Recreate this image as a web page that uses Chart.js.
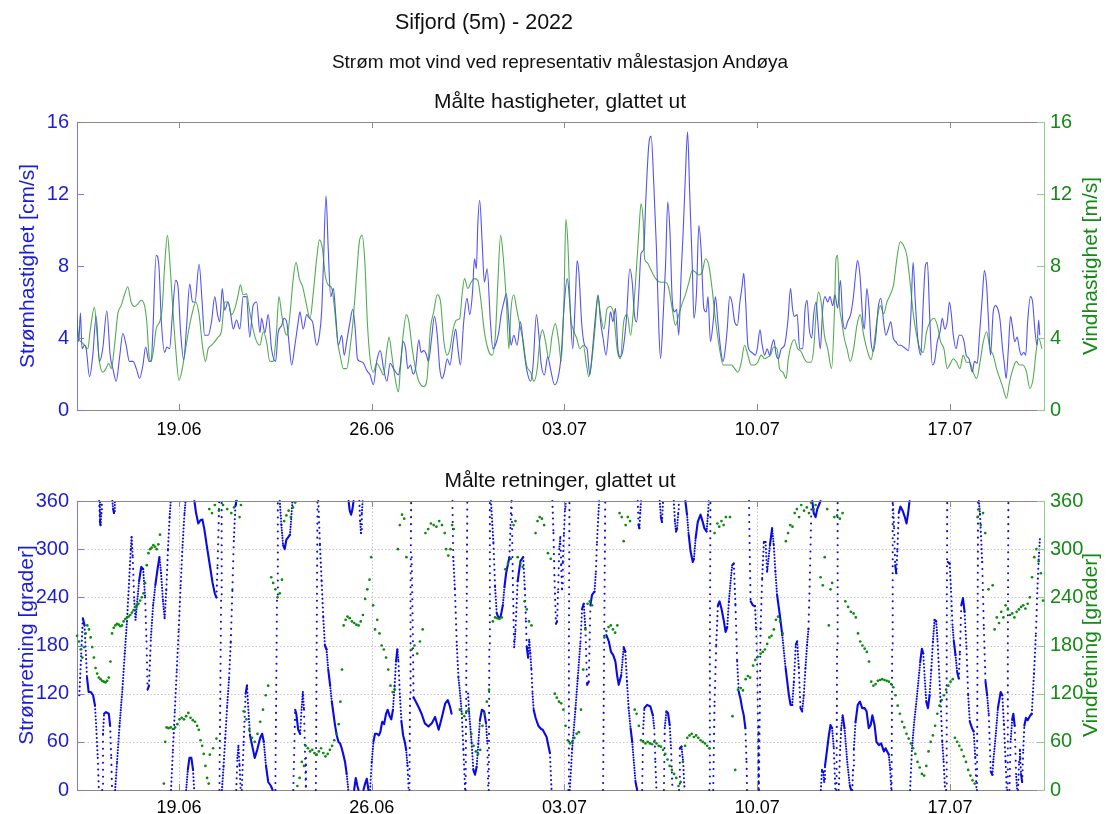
<!DOCTYPE html>
<html><head><meta charset="utf-8">
<script src="https://cdn.jsdelivr.net/npm/chart.js@4.4.1/dist/chart.umd.min.js"></script>
<style>
body{margin:0;background:#fff;width:1113px;height:814px;overflow:hidden;position:relative;font-family:"Liberation Sans",Arial,Helvetica,sans-serif;}
canvas{position:absolute;left:0;}
.t{position:absolute;white-space:nowrap;transform:translate(-50%,-50%);color:#111;z-index:2;}
.yl{position:absolute;white-space:nowrap;transform:translate(-50%,-50%) rotate(-90deg);z-index:2;font-size:21px;}
</style></head><body>
<canvas id="c1" width="1113" height="450" style="top:0"></canvas>
<canvas id="c2" width="1113" height="364" style="top:450px"></canvas>
<div class="t" style="left:484px;top:22px;font-size:21.5px">Sifjord (5m) - 2022</div>
<div class="t" style="left:560px;top:62px;font-size:19px">Strøm mot vind ved representativ målestasjon Andøya</div>
<div class="t" style="left:560px;top:101px;font-size:21px">Målte hastigheter, glattet ut</div>
<div class="t" style="left:560px;top:480px;font-size:21px">Målte retninger, glattet ut</div>
<div class="yl" style="left:27px;top:266px;color:#1c1cd8">Strømhastighet [cm/s]</div>
<div class="yl" style="left:1090px;top:266px;color:#168a16">Vindhastighet [m/s]</div>
<div class="yl" style="left:26px;top:645px;color:#1c1cd8">Strømretning [grader]</div>
<div class="yl" style="left:1090px;top:645px;color:#168a16">Vindretning [grader]</div>
<script>
// ---- axis definitions (days since 15.06.2022 00:00) ----
const xMinDay = 0.296;
const xMaxDay = 35.414;
const xTickDays = [4, 11, 18, 25, 32];
const xTickLabels = ['19.06', '26.06', '03.07', '10.07', '17.07'];
const speedTicks = [0, 4, 8, 12, 16];
const dirTicks = [0, 60, 120, 180, 240, 300, 360];

// ---- current speed [cm/s]: [day, value] ----
const curSpeed = [[0.27,5.45],[0.36,3.8],[0.42,5.4],[0.48,3.4],[0.57,3.6],[0.63,3.4],[0.75,1.85],[0.87,3.05],[0.99,5.2],[1.11,2.7],[1.23,3.4],[1.38,5.5],[1.50,3.05],[1.60,2.3],[1.72,1.6],[1.84,2.9],[1.96,4.25],[2.08,3.6],[2.20,2.7],[2.33,2.7],[2.45,2.3],[2.57,1.75],[2.69,2.5],[2.79,3.5],[2.91,2.7],[2.99,2.7],[3.05,4.3],[3.17,8.6],[3.27,8.0],[3.36,4.9],[3.48,3.2],[3.56,3.5],[3.66,3.4],[3.76,5.3],[3.88,7.2],[3.96,6.9],[4.06,4.3],[4.17,2.8],[4.27,4.5],[4.39,7.0],[4.49,6.0],[4.58,6.0],[4.73,8.1],[4.84,6.0],[4.93,4.15],[5.06,4.15],[5.18,4.9],[5.30,6.3],[5.40,5.3],[5.48,4.9],[5.57,6.75],[5.66,5.55],[5.78,6.0],[5.88,5.3],[5.97,4.5],[6.09,5.0],[6.21,4.5],[6.33,6.3],[6.45,6.3],[6.57,4.05],[6.69,5.8],[6.82,6.0],[6.94,4.3],[7.00,5.1],[7.12,4.3],[7.24,5.3],[7.36,3.4],[7.51,2.7],[7.60,4.3],[7.73,4.7],[7.81,5.1],[7.91,4.9],[7.99,3.8],[8.09,2.5],[8.21,3.6],[8.33,4.9],[8.39,5.45],[8.51,4.5],[8.64,5.3],[8.73,5.1],[8.85,4.9],[9.00,3.6],[9.10,4.15],[9.18,5.45],[9.24,7.85],[9.34,11.9],[9.42,8.95],[9.51,6.3],[9.61,6.75],[9.69,5.3],[9.79,3.6],[9.91,4.15],[10.00,3.05],[10.09,3.8],[10.21,4.9],[10.31,5.6],[10.40,4.5],[10.48,2.85],[10.58,2.7],[10.70,2.6],[10.82,2.2],[10.94,1.95],[11.06,1.4],[11.18,2.7],[11.31,3.3],[11.43,2.3],[11.55,1.6],[11.67,2.6],[11.79,2.3],[11.97,1.95],
[12.04,2.5],[12.14,3.8],[12.23,3.4],[12.31,2.3],[12.41,2.5],[12.50,2.0],[12.59,2.3],[12.71,3.9],[12.79,3.2],[12.89,3.3],[12.98,3.1],[13.06,2.7],[13.16,3.8],[13.28,5.2],[13.38,4.15],[13.47,2.3],[13.56,1.75],[13.64,2.1],[13.74,2.85],[13.84,2.5],[13.96,3.8],[14.05,4.5],[14.13,3.4],[14.22,2.5],[14.34,4.9],[14.46,6.2],[14.56,5.3],[14.66,6.55],[14.73,8.4],[14.80,7.85],[14.85,10.25],[14.92,11.65],[15.01,9.3],[15.09,7.1],[15.19,7.85],[15.31,4.9],[15.40,3.4],[15.49,3.6],[15.61,4.3],[15.70,5.3],[15.80,6.0],[15.89,6.45],[15.98,4.9],[16.06,3.6],[16.16,4.15],[16.28,3.6],[16.40,4.9],[16.52,3.4],[16.62,2.3],[16.77,1.6],[16.86,2.5],[16.98,5.3],[17.07,4.15],[17.15,2.6],[17.27,1.95],[17.39,2.95],[17.49,2.3],[17.64,1.4],[17.76,1.75],[17.88,3.05],[17.98,5.65],[18.10,7.3],[18.19,6.0],[18.30,3.4],[18.39,6.0],[18.46,8.3],[18.53,7.5],[18.62,4.9],[18.73,3.6],[18.82,3.4],[18.92,1.95],[19.00,3.05],[19.13,5.3],[19.22,6.4],[19.31,4.9],[19.40,4.0],[19.51,3.05],[19.61,4.5],[19.67,5.45],[19.76,4.9],[19.85,5.65],[19.94,3.4],[20.03,2.95],[20.13,3.4],[20.25,5.1],[20.37,7.85],[20.46,7.1],[20.54,5.3],[20.62,4.9],[20.70,6.55],[20.78,8.7],[20.88,8.95],[20.95,11.55],[21.06,14.7],[21.15,15.2],[21.24,12.65],[21.34,8.95],[21.43,4.35],[21.49,2.85],[21.58,5.1],[21.67,8.05],[21.75,11.55],[21.83,9.9],[21.91,6.2],[22.00,5.45],[22.07,5.6],[22.15,4.15],[22.24,7.7],[22.31,9.9],[22.39,13.0],[22.47,15.45],[22.55,11.9],[22.64,8.05],[22.70,5.1],[22.79,6.4],[22.88,10.25],[22.96,8.95],[23.06,5.65],[23.15,5.45],[23.21,6.3],[23.30,3.8],[23.40,4.9],[23.48,6.3],[23.57,4.9],[23.67,3.4],[23.76,2.7],
[23.84,3.4],[23.91,4.5],[24.00,6.3],[24.08,6.0],[24.18,4.9],[24.28,4.7],[24.37,6.0],[24.44,6.75],[24.51,7.6],[24.58,6.0],[24.66,3.6],[24.76,3.25],[24.84,3.15],[24.93,3.05],[25.00,3.4],[25.10,4.45],[25.18,3.6],[25.27,3.05],[25.36,3.4],[25.45,3.05],[25.53,3.6],[25.60,3.9],[25.69,3.05],[25.77,2.85],[25.87,3.4],[25.99,3.6],[26.11,4.9],[26.21,6.75],[26.28,5.65],[26.35,5.2],[26.45,5.3],[26.54,3.4],[26.65,3.4],[26.74,5.65],[26.81,6.1],[26.89,4.5],[26.98,4.0],[27.05,5.3],[27.14,6.0],[27.20,4.9],[27.29,3.4],[27.38,5.65],[27.46,6.3],[27.56,6.0],[27.64,6.3],[27.74,5.8],[27.82,6.4],[27.92,5.65],[28.02,7.2],[28.11,4.9],[28.20,4.5],[28.28,4.9],[28.40,5.35],[28.50,6.4],[28.58,7.65],[28.64,8.3],[28.73,7.5],[28.83,5.1],[28.89,4.5],[28.98,6.75],[29.06,5.65],[29.13,3.8],[29.22,3.25],[29.31,4.15],[29.39,5.65],[29.49,6.2],[29.59,4.9],[29.67,4.15],[29.76,4.5],[29.85,4.9],[29.94,4.0],[30.03,3.8],[30.13,3.6],[30.21,3.6],[30.31,3.5],[30.39,3.4],[30.49,3.3],[30.58,5.3],[30.66,8.2],[30.74,6.0],[30.84,3.8],[30.94,3.05],[31.03,6.0],[31.11,8.05],[31.18,8.2],[31.26,5.3],[31.36,2.5],[31.44,2.7],[31.54,3.8],[31.64,4.35],[31.72,5.1],[31.81,4.5],[31.90,4.9],[31.98,6.0],[32.05,5.3],[32.12,4.15],[32.22,3.4],[32.33,4.15],[32.41,4.15],[32.51,3.8],[32.59,3.05],[32.69,2.85],[32.81,2.1],[32.89,2.7],[32.99,2.6],[33.07,4.15],[33.17,6.2],[33.25,7.75],[33.33,6.95],[33.40,4.9],[33.47,3.05],[33.57,5.45],[33.65,5.8],[33.74,5.6],[33.81,5.1],[33.91,3.4],[33.98,2.5],[34.04,1.75],[34.12,3.4],[34.20,5.2],[34.28,4.5],[34.35,3.8],[34.44,4.05],[34.52,3.4],[34.59,3.05],[34.68,3.2],[34.75,3.05],[34.82,4.9],[34.92,6.3],[35.00,6.0],[35.08,4.5],[35.16,3.6],[35.22,5.0],[35.26,4.15]];

// ---- wind speed [m/s]: [day, value] ----
const windSpeed = [[0.27,5.45],[0.36,4.0],[0.44,3.8],[0.57,3.6],[0.69,3.4],[0.77,4.35],[0.93,5.7],[1.01,4.5],[1.11,2.7],[1.23,2.1],[1.35,2.3],[1.45,2.6],[1.54,2.3],[1.66,3.6],[1.78,5.35],[1.90,5.8],[2.02,6.4],[2.14,6.85],[2.26,6.0],[2.39,5.75],[2.51,5.9],[2.63,6.1],[2.75,5.8],[2.83,4.9],[2.91,3.05],[2.99,2.7],[3.08,3.4],[3.17,4.5],[3.30,4.9],[3.39,5.65],[3.48,8.05],[3.58,9.7],[3.66,8.4],[3.76,6.0],[3.88,3.4],[4.00,1.65],[4.12,2.3],[4.24,3.4],[4.36,4.5],[4.49,5.45],[4.61,6.0],[4.73,5.3],[4.85,3.6],[4.96,2.7],[5.06,3.4],[5.18,3.6],[5.30,3.8],[5.42,4.05],[5.54,4.35],[5.66,6.0],[5.78,6.0],[5.91,5.3],[6.03,5.65],[6.15,6.4],[6.23,6.95],[6.33,6.4],[6.45,6.45],[6.57,5.45],[6.69,4.5],[6.82,3.8],[6.94,3.6],[7.06,4.35],[7.18,3.8],[7.30,2.7],[7.42,2.7],[7.54,4.35],[7.63,6.3],[7.73,5.3],[7.85,4.35],[7.93,4.15],[8.03,5.3],[8.15,7.3],[8.25,8.2],[8.37,7.3],[8.49,6.85],[8.61,6.0],[8.76,5.1],[8.88,6.55],[9.00,8.4],[9.10,9.45],[9.21,8.95],[9.31,7.5],[9.42,6.95],[9.55,6.75],[9.67,5.3],[9.76,3.8],[9.85,3.05],[9.97,2.3],[10.09,2.3],[10.21,3.4],[10.33,5.1],[10.46,7.7],[10.55,9.35],[10.65,9.7],[10.75,8.2],[10.84,4.9],[10.94,2.85],[11.06,2.1],[11.18,2.6],[11.31,2.3],[11.43,1.95],[11.55,3.4],[11.63,4.05],[11.73,3.05],[11.85,1.75],[11.97,1.0],
[12.04,2.3],[12.14,4.15],[12.26,5.3],[12.35,4.9],[12.47,3.4],[12.59,2.3],[12.71,1.6],[12.89,1.3],[13.01,1.75],[13.13,4.5],[13.25,5.45],[13.38,6.4],[13.50,6.0],[13.62,3.8],[13.74,3.05],[13.84,3.4],[13.96,4.5],[14.08,5.0],[14.20,5.1],[14.28,6.4],[14.37,7.3],[14.49,6.75],[14.61,7.1],[14.73,7.3],[14.85,7.2],[14.97,6.0],[15.09,4.35],[15.25,3.25],[15.37,3.05],[15.49,4.15],[15.58,7.1],[15.68,9.7],[15.77,8.6],[15.89,6.0],[15.98,3.4],[16.06,5.65],[16.16,6.4],[16.26,5.65],[16.38,4.7],[16.50,3.8],[16.62,2.5],[16.77,2.1],[16.89,1.6],[17.01,2.3],[17.10,3.8],[17.20,4.45],[17.31,3.8],[17.43,2.85],[17.55,4.15],[17.67,4.8],[17.79,3.8],[17.88,2.7],[17.98,6.0],[18.05,10.6],[18.12,9.35],[18.22,5.3],[18.31,4.5],[18.44,4.0],[18.56,3.4],[18.68,3.6],[18.80,2.5],[18.88,1.85],[19.00,2.85],[19.13,4.9],[19.21,6.3],[19.31,5.3],[19.43,4.5],[19.55,5.65],[19.67,5.75],[19.79,5.3],[19.91,3.4],[20.03,2.85],[20.15,4.9],[20.28,5.3],[20.40,4.15],[20.49,5.3],[20.58,7.1],[20.70,9.9],[20.78,11.45],[20.86,10.45],[20.91,8.4],[21.00,8.2],[21.12,7.85],[21.31,7.3],[21.49,7.1],[21.67,7.1],[21.79,6.75],[21.91,5.65],[22.03,4.7],[22.15,5.3],[22.27,5.9],[22.39,6.4],[22.52,7.1],[22.64,7.75],[22.76,7.65],[22.88,7.5],[23.00,7.65],[23.12,8.4],[23.24,8.05],[23.36,6.75],[23.45,5.45],[23.54,4.35],[23.67,3.05],[23.76,2.5],
[23.91,2.5],[24.06,2.5],[24.18,2.3],[24.30,2.1],[24.42,2.65],[24.54,3.6],[24.66,3.05],[24.78,2.5],[24.90,2.5],[25.02,2.65],[25.14,3.05],[25.27,2.85],[25.39,2.95],[25.48,3.05],[25.60,3.5],[25.72,3.4],[25.81,2.3],[25.93,2.1],[26.05,1.75],[26.13,2.85],[26.23,3.6],[26.35,3.9],[26.47,3.4],[26.59,3.25],[26.71,2.85],[26.83,2.65],[26.96,2.65],[27.05,3.4],[27.14,5.45],[27.22,6.55],[27.32,6.0],[27.44,4.15],[27.56,3.4],[27.70,2.3],[27.80,5.3],[27.86,8.4],[27.92,8.6],[27.98,6.0],[28.07,4.9],[28.16,4.0],[28.26,3.4],[28.38,2.7],[28.50,3.4],[28.62,4.7],[28.74,5.3],[28.86,4.2],[28.98,3.4],[29.13,2.8],[29.22,3.4],[29.34,4.9],[29.47,5.8],[29.59,5.35],[29.71,6.0],[29.83,6.4],[29.95,6.95],[30.07,8.4],[30.19,9.35],[30.31,9.15],[30.43,8.6],[30.55,7.1],[30.67,5.3],[30.79,4.15],[30.91,3.4],[31.03,3.2],[31.15,4.35],[31.28,4.9],[31.42,5.1],[31.54,4.7],[31.66,3.8],[31.78,3.4],[31.90,2.3],[32.00,2.55],[32.12,2.85],[32.24,2.65],[32.36,2.3],[32.48,3.05],[32.60,2.65],[32.72,2.65],[32.84,2.1],[32.97,1.75],[33.09,2.65],[33.21,3.8],[33.33,4.35],[33.45,3.4],[33.57,3.05],[33.69,2.3],[33.81,1.75],[33.93,1.2],[34.05,0.65],[34.17,1.6],[34.29,2.3],[34.41,2.7],[34.53,2.5],[34.65,2.5],[34.78,2.1],[34.90,1.2],[35.02,1.75],[35.14,3.4],[35.22,4.0],[35.34,3.4]];

// ---- current direction [deg]: [day, value], null = wrap break ----
const curDir = [[0.38,118],[0.45,170],[0.51,214],[0.57,205],[0.66,140],[0.72,122],[0.80,122],[0.88,118],[0.95,105],[1.00,75],[1.05,40],[1.09,0],null,
[1.10,360],[1.13,335],[1.15,330],[1.18,345],[1.20,360],null,
[1.21,0],[1.24,70],[1.28,95],[1.35,97],[1.45,95],[1.50,80],[1.54,40],[1.57,0],null,
[1.58,360],[1.61,350],[1.64,345],[1.67,360],null,
[1.68,0],[1.75,35],[1.84,80],[1.95,128],[2.03,170],[2.11,210],[2.18,255],[2.25,300],[2.28,315],[2.32,290],[2.37,240],[2.42,212],[2.47,230],[2.55,260],[2.63,278],[2.70,275],[2.77,240],[2.82,185],[2.86,125],[2.91,130],[2.98,190],[3.06,230],[3.14,255],[3.22,275],[3.29,290],[3.35,270],[3.42,235],[3.48,214],[3.54,250],[3.60,300],[3.66,340],[3.70,360],null,
[3.71,0],[3.78,50],[3.85,100],[3.92,150],[3.99,200],[4.06,255],[4.13,305],[4.20,345],[4.24,360],null,
[4.26,0],[4.32,25],[4.38,40],[4.45,40],[4.51,25],[4.55,0],null,
[4.56,360],[4.62,345],[4.70,332],[4.78,336],[4.85,337],[4.92,325],[5.02,302],[5.12,280],[5.22,258],[5.30,245],[5.36,240],[5.40,280],[5.44,330],[5.46,360],null,
[5.47,0],[5.50,120],[5.53,240],[5.55,360],null,
[5.56,0],[5.62,30],[5.68,65],[5.75,105],[5.82,140],[5.88,185],[5.94,250],[5.99,310],[6.05,355],[6.07,360],null,
[6.08,0],[6.12,40],[6.16,55],[6.20,30],[6.24,0],null,
[6.28,0],[6.35,60],[6.42,120],[6.47,130],[6.52,100],[6.58,68],[6.66,55],[6.75,40],[6.84,50],[6.95,65],[7.02,70],[7.08,60],[7.16,30],[7.24,10],[7.34,5],[7.40,0],null,
[7.50,0],[7.53,120],[7.56,240],[7.59,360],null,
[7.66,360],[7.72,330],[7.78,305],[7.84,300],[7.90,312],[7.97,315],[8.03,318],[8.08,340],[8.12,360],null,
[8.15,0],[8.20,70],[8.22,100],[8.26,95],[8.33,75],[8.40,70],[8.45,100],[8.50,122],[8.54,100],[8.58,40],[8.61,0],null,
[8.97,0],[9.00,180],[9.03,360],null,
[9.06,360],[9.12,305],[9.18,260],[9.24,215],[9.30,180],[9.36,175],[9.42,150],[9.49,130],[9.55,110],[9.61,95],[9.67,80],[9.73,68],[9.79,60],[9.85,58],[9.91,52],[9.97,44],[10.03,35],[10.09,20],[10.15,0],null,
[10.16,360],[10.20,348],[10.25,343],[10.30,350],[10.34,360],null,
[10.36,0],[10.42,15],[10.48,5],[10.52,0],null,
[10.55,360],[10.58,335],[10.61,320],[10.64,345],[10.67,360],null,
[10.70,0],[10.76,8],[10.82,14],[10.88,0],null,
[10.94,0],[11.00,35],[11.06,60],[11.12,70],[11.19,70],[11.26,68],[11.31,72],[11.38,85],[11.45,82],[11.52,95],[11.58,100],[11.65,92],[11.71,88],[11.77,100],[11.83,130],[11.88,160],[11.93,175],[11.97,160],[12.02,120],[12.08,85],[12.14,68],[12.20,60],[12.25,50],[12.30,30],[12.34,0],null,
[12.37,0],[12.39,120],[12.41,240],[12.43,360],null,
[12.45,290],[12.49,200],[12.52,115],[12.57,112],[12.69,104],[12.81,95],[12.93,83],[13.06,79],[13.18,83],[13.30,91],[13.43,75],[13.55,91],[13.67,108],[13.76,112],[13.84,104],[13.90,95],null,
[13.93,360],[13.96,290],[14.02,250],[14.09,180],[14.15,140],[14.21,120],[14.27,95],[14.33,50],[14.39,0],null,
[14.41,0],[14.44,180],[14.47,360],null,
[14.50,120],[14.54,95],[14.63,58],[14.69,25],[14.75,19],[14.81,29],[14.87,58],[14.93,87],[15.00,100],[15.08,98],[15.15,83],[15.20,58],[15.23,0],null,
[15.25,0],[15.27,180],[15.29,360],null,
[15.33,360],[15.42,307],[15.48,253],[15.54,220],[15.61,214],[15.68,216],[15.76,230],[15.82,253],[15.88,270],[15.95,282],[16.00,290],[16.04,330],[16.07,360],null,
[16.08,360],[16.12,270],[16.17,178],[16.22,200],[16.30,260],[16.40,285],[16.50,290],[16.56,250],[16.60,210],[16.63,178],[16.68,165],[16.72,187],[16.76,170],[16.80,150],[16.84,120],[16.88,100],[16.95,90],[17.05,80],[17.15,76],[17.21,75],[17.35,66],[17.47,46],[17.53,0],null,
[17.56,360],[17.60,320],[17.64,260],[17.69,207],[17.73,210],[17.77,250],[17.81,300],[17.85,315],[17.88,280],[17.91,250],[17.94,285],[17.98,320],[18.02,350],[18.04,360],null,
[18.14,0],[18.16,180],[18.18,360],null,
[18.19,0],[18.28,52],[18.40,102],[18.48,139],[18.58,185],[18.64,226],[18.70,232],[18.76,201],[18.82,131],[18.88,135],[18.94,230],[19.00,243],[19.09,247],[19.14,272],[19.18,309],[19.23,343],[19.26,360],null,
[19.40,0],[19.44,180],[19.48,360],null,
[19.52,193],[19.61,185],[19.69,172],[19.77,168],[19.85,160],[19.91,143],[19.97,131],[20.06,143],[20.15,178],[20.21,172],[20.27,135],[20.33,102],[20.40,77],[20.46,60],[20.52,35],[20.58,10],[20.64,0],null,
[20.66,360],[20.69,330],[20.72,326],[20.75,345],[20.78,360],null,
[20.82,0],[20.86,77],[20.90,102],[21.00,106],[21.12,104],[21.21,93],[21.26,77],[21.30,35],[21.34,0],null,
[21.46,360],[21.50,340],[21.54,334],[21.58,360],null,
[21.61,0],[21.64,77],[21.70,98],[21.76,96],[21.82,81],[21.87,52],[21.92,0],null,
[21.97,360],[22.01,335],[22.05,322],[22.09,326],[22.13,345],[22.15,360],null,
[22.16,0],[22.19,52],[22.25,54],[22.31,35],[22.36,0],null,
[22.39,360],[22.45,343],[22.51,318],[22.58,297],[22.66,284],[22.70,288],[22.76,313],[22.84,334],[22.94,343],[23.02,334],[23.08,326],[23.16,322],[23.21,343],[23.24,360],null,
[23.26,0],[23.28,180],[23.30,360],null,
[23.40,0],[23.45,110],[23.51,181],[23.57,230],[23.63,235],[23.70,226],[23.79,210],[23.85,197],[23.91,203],[23.97,235],[24.03,259],[24.09,280],[24.15,282],[24.21,230],[24.27,160],[24.33,122],[24.39,114],[24.45,102],[24.51,93],[24.57,77],[24.61,35],[24.63,0],null,
[24.70,360],[24.73,290],[24.76,235],[24.84,230],[24.92,229],[24.96,200],[25.00,150],[25.03,80],[25.05,0],null,
[25.06,0],[25.09,90],[25.12,201],[25.18,264],[25.24,309],[25.30,309],[25.36,272],[25.46,305],[25.54,326],[25.60,305],[25.66,272],[25.72,243],[25.82,218],[25.91,193],[25.97,172],[26.03,152],[26.09,135],[26.15,118],[26.21,106],[26.27,106],[26.33,135],[26.40,181],[26.45,185],[26.51,152],[26.57,102],[26.63,98],[26.69,118],[26.75,152],[26.81,181],[26.86,201],[26.91,264],[26.95,326],[26.97,360],null,
[27.00,360],[27.05,345],[27.12,340],[27.18,350],[27.24,355],[27.30,360],null,
[27.31,0],[27.35,25],[27.40,22],[27.43,10],[27.46,30],[27.48,35],[27.60,68],[27.66,81],[27.72,77],[27.78,52],[27.84,0],null,
[27.88,0],[27.90,180],[27.92,360],null,
[27.96,0],[28.01,50],[28.05,77],[28.10,93],[28.17,77],[28.27,35],[28.36,6],[28.41,0],null,
[28.45,0],[28.48,25],[28.51,52],[28.57,85],[28.65,106],[28.73,110],[28.81,102],[28.90,102],[28.97,98],[29.05,77],[29.12,81],[29.18,93],[29.26,81],[29.33,60],[29.42,56],[29.50,58],[29.60,48],[29.66,52],[29.72,48],[29.78,44],[29.83,25],[29.87,0],null,
[29.88,0],[29.90,180],[29.92,360],null,
[29.93,355],[29.97,326],[30.01,280],[30.05,270],[30.09,300],[30.14,345],[30.20,353],[30.28,348],[30.36,340],[30.42,332],[30.48,345],[30.53,360],null,
[30.55,0],[30.62,52],[30.70,85],[30.78,110],[30.85,135],[30.92,160],[30.98,176],[31.03,170],[31.08,140],[31.14,110],[31.20,102],[31.26,118],[31.32,150],[31.38,185],[31.44,212],[31.50,210],[31.55,185],[31.60,150],[31.66,110],[31.72,60],[31.77,35],[31.82,0],null,
[31.86,0],[31.88,180],[31.90,360],null,
[31.92,284],[31.99,282],[32.04,247],[32.09,206],[32.14,185],[32.20,168],[32.26,147],[32.32,139],[32.36,172],[32.41,230],[32.47,239],[32.53,222],[32.60,176],[32.66,118],[32.72,85],[32.80,77],[32.86,73],[32.92,40],[32.96,0],null,
[32.98,0],[33.00,180],[33.02,360],null,
[33.05,360],[33.09,343],[33.17,284],[33.23,201],[33.29,135],[33.35,118],[33.41,93],[33.48,23],[33.54,19],[33.57,35],[33.66,68],[33.74,102],[33.84,122],[33.90,118],[33.96,81],[34.02,35],[34.06,0],null,
[34.08,0],[34.10,180],[34.12,360],null,
[34.16,0],[34.20,60],[34.26,88],[34.30,95],[34.35,80],[34.40,20],[34.44,0],null,
[34.47,0],[34.51,35],[34.54,50],[34.58,20],[34.62,10],[34.66,50],[34.70,80],[34.76,90],[34.82,87],[34.90,92],[34.97,95],[35.05,145],[35.12,195],[35.17,245],[35.22,287],[35.27,316]];

// ---- wind direction [deg]: [day, value] ----
const windDir = [[0.30,192],[0.37,185],[0.43,175],[0.49,165],[0.55,178],[0.61,195],[0.67,205],[0.73,200],[0.79,190],[0.85,178],[0.91,165],[0.97,152],[1.03,145],[1.09,140],[1.15,138],[1.21,136],[1.27,135],[1.33,134],[1.39,136],[1.45,140],[1.51,160],[1.57,195],[1.63,202],[1.69,205],[1.75,207],[1.81,206],[1.87,204],[1.93,205],[1.99,210],[2.05,213],[2.11,215],[2.17,216],[2.23,218],[2.29,221],[2.35,224],[2.41,228],[2.47,230],[2.53,232],[2.59,236],[2.65,240],[2.71,245],[2.77,258],[2.83,280],[2.89,295],[2.95,300],[3.01,302],[3.07,305],[3.13,303],[3.19,300],[3.25,306],[3.31,318],
[3.45,8],[3.50,60],[3.55,78],[3.62,77],[3.70,78],[3.78,76],[3.86,78],[3.94,82],[4.02,88],[4.10,90],[4.18,88],[4.26,92],[4.34,96],[4.42,90],[4.50,87],[4.58,85],[4.66,80],[4.72,75],[4.78,62],[4.84,55],[4.90,45],[4.96,30],[5.02,15],[5.08,8],[5.12,44],[5.24,52],[5.36,64],
[5.10,350],[5.20,345],[5.30,355],[5.45,348],[5.60,355],[5.75,350],[5.90,345],[6.00,352],[6.10,360],[6.20,340],[6.25,355],
[6.35,98],[6.45,88],[6.55,75],[6.65,65],[6.75,60],[6.85,70],[6.95,85],[7.05,100],[7.15,118],[7.24,130],
[7.35,265],[7.42,258],[7.50,250],[7.58,240],[7.66,245],[7.74,262],[7.82,335],[7.90,342],[7.98,348],[8.06,340],[8.14,352],[8.22,358],
[8.30,5],[8.38,15],[8.46,35],[8.54,30],
[8.60,55],[8.68,52],[8.76,48],[8.84,50],[8.92,46],[9.00,44],[9.08,48],[9.16,52],[9.24,46],[9.32,42],[9.40,45],[9.48,50],[9.56,55],[9.64,62],[9.72,70],[9.80,82],[9.86,110],[9.92,150],[9.98,205],[10.05,212],[10.12,216],[10.20,214],[10.28,210],[10.36,208],[10.44,206],[10.52,205],[10.60,210],[10.68,218],[10.76,238],[10.84,250],[10.92,262],
[10.98,290],[11.05,230],[11.12,200],[11.20,212],[11.28,195],[11.36,180],[11.44,175],[11.52,165],[11.60,150],[11.68,130],[11.76,122],[11.84,125],
[11.95,300],[12.02,330],[12.10,343],[12.18,338],[12.26,290],[12.45,175],[12.55,180],[12.65,170],[12.75,185],[12.85,200],
[12.95,320],[13.05,325],[13.15,332],[13.25,330],[13.35,328],[13.45,335],[13.55,330],[13.65,320],[13.70,300],[13.78,292],[13.86,300],[13.92,330],[13.98,325],
[14.20,100],[14.28,95],[14.36,92],[14.44,98],[14.52,100],[14.62,70],[14.70,55],[14.78,48],[14.86,45],[14.94,50],[15.02,80],[15.10,95],[15.18,110],[15.26,125],[15.40,210],[15.48,215],[15.56,214],[15.64,213],[15.72,215],[15.85,275],[15.95,282],[16.05,288],[16.15,330],[16.22,335],[16.30,290],[16.40,282],[16.48,278],[16.55,235],[16.63,225],[16.71,210],[16.80,205],[16.95,320],[17.02,335],[17.10,340],[17.18,338],[17.26,330],[17.40,295],[17.50,288],
[17.65,120],[17.72,115],[17.80,110],[17.88,108],[17.96,100],[18.04,80],[18.12,62],[18.20,58],[18.28,60],[18.36,65],[18.44,70],[18.52,72],[18.60,100],[18.68,150],[18.76,200],[18.84,232],[18.92,235],[19.00,230],[19.45,190],[19.52,198],[19.60,203],[19.68,205],[19.76,200],[19.84,196],[19.92,205],[20.00,345],[20.08,340],[20.15,310],[20.22,330],[20.30,340],[20.38,335],
[20.55,100],[20.62,95],[20.70,80],[20.78,62],[20.86,60],[20.94,58],[21.02,60],[21.10,58],[21.18,57],[21.26,60],[21.34,58],[21.42,55],[21.50,54],[21.58,50],[21.66,45],[21.74,38],[21.82,30],[21.90,25],[21.98,20],[22.06,15],[22.14,5],[22.22,10],[22.30,35],[22.38,55],[22.46,65],[22.54,68],[22.62,70],[22.70,66],[22.78,68],[22.86,65],[22.94,62],[23.02,60],[23.10,58],[23.18,55],[23.26,52],
[23.45,320],[23.55,332],[23.62,328],[23.70,335],[23.78,330],[23.86,340],[24.01,340],[24.10,92],[24.20,25],[24.30,125],[24.40,127],[24.48,124],[24.58,138],[24.66,142],[24.74,140],[24.85,155],[24.93,162],[25.02,166],[25.12,170],[25.20,172],[25.28,175],[25.36,182],[25.44,190],[25.52,192],[25.60,200],[25.68,212],[25.76,216],[25.83,210],[25.92,195],[26.04,310],[26.12,320],[26.20,330],[26.28,328],[26.36,345],[26.44,350],
[26.52,340],[26.60,355],[26.70,348],[26.80,352],[26.88,345],[26.96,358],[27.05,350],[27.12,355],[27.30,265],[27.38,255],[27.45,290],[27.54,350],[27.60,205],[27.66,250],[27.72,258],[27.80,340],[27.90,342],[28.00,338],[28.10,345],[28.20,235],[28.30,228],[28.40,222],[28.50,220],[28.58,215],[28.66,195],[28.74,185],[28.82,180],[28.90,176],[28.98,172],[29.06,160],[29.14,135],[29.22,130],[29.30,132],[29.38,136],[29.46,137],[29.54,138],[29.62,137],[29.70,136],[29.78,135],[29.86,132],[29.94,128],[30.02,118],[30.10,105],[30.18,95],[30.26,85],[30.34,78],[30.42,70],[30.50,64],[30.58,58],[30.66,52],[30.74,45],[30.82,35],[30.90,28],[30.98,20],[31.06,18],[31.14,30],[31.22,48],[31.30,60],[31.38,68],[31.46,80],[31.54,95],[31.62,105],[31.70,112],[31.78,118],[31.86,125],[31.94,130],[32.02,135],[32.10,138],[32.18,65],[32.26,60],[32.34,55],[32.42,50],[32.50,42],[32.58,35],[32.66,25],[32.74,18],[32.82,12],[32.90,8],[33.00,340],[33.06,350],[33.12,330],[33.20,345],[33.28,320],[33.40,250],[33.55,255],[33.62,200],[33.70,215],[33.78,208],[33.86,222],[33.94,215],[34.02,230],[34.10,225],[34.18,218],[34.26,220],[34.34,215],[34.42,222],[34.50,225],[34.58,228],[34.66,230],[34.74,226],[34.82,232],[34.90,240],[34.98,265],[35.06,290],[35.14,300],[35.22,285],[35.30,270],[35.38,236]];

// ---- styling ----
const FONT = '"Liberation Sans", Arial, Helvetica, sans-serif';
const BLUE_TXT = '#1c1cd8', GREEN_TXT = '#168a16';
const BLUE_AX = '#7878f2', GREEN_AX = '#8ccc8c', GRAY = '#8a8a8a';

function toXY(pairs) {
  const out = []; let lastX = xMinDay;
  pairs.forEach(p => {
    if (p === null) out.push({x: lastX, y: null});
    else { out.push({x: p[0], y: p[1]}); lastX = p[0]; }
  });
  return out;
}

const framePlugin = {
  id: 'frame',
  beforeDatasetsDraw(chart, args, o) {
    if (!o.grid) return;
    const {ctx, chartArea: a, scales} = chart;
    ctx.save();
    ctx.strokeStyle = '#c4c4d4'; ctx.lineWidth = 1; ctx.setLineDash([1.5, 2]);
    scales.x.ticks.forEach(t => {
      const px = Math.round(scales.x.getPixelForValue(t.value)) + 0.5;
      ctx.beginPath(); ctx.moveTo(px, a.top); ctx.lineTo(px, a.bottom); ctx.stroke();
    });
    const ys = scales.yL;
    ys.ticks.forEach(t => {
      if (t.value <= ys.min || t.value >= ys.max) return;
      const py = Math.round(ys.getPixelForValue(t.value)) + 0.5;
      ctx.beginPath(); ctx.moveTo(a.left, py); ctx.lineTo(a.right, py); ctx.stroke();
    });
    ctx.restore();
  },
  afterDatasetsDraw(chart) {
    const {ctx, chartArea: a, scales} = chart;
    ctx.save();
    ctx.lineWidth = 1;
    ctx.strokeStyle = GRAY;
    ctx.beginPath(); ctx.moveTo(a.left, a.top + 0.5); ctx.lineTo(a.right, a.top + 0.5); ctx.stroke();
    scales.x.ticks.forEach(t => {
      const px = Math.round(scales.x.getPixelForValue(t.value)) + 0.5;
      ctx.beginPath(); ctx.moveTo(px, a.bottom); ctx.lineTo(px, a.bottom - 6);
      ctx.moveTo(px, a.top); ctx.lineTo(px, a.top + 6); ctx.stroke();
    });
    const yl = scales.yL, yr = scales.yR;
    ctx.strokeStyle = BLUE_AX;
    yl.ticks.forEach(t => {
      const py = Math.round(yl.getPixelForValue(t.value)) + 0.5;
      ctx.beginPath(); ctx.moveTo(a.left, py); ctx.lineTo(a.left + 7, py); ctx.stroke();
    });
    ctx.strokeStyle = GREEN_AX;
    yr.ticks.forEach(t => {
      const py = Math.round(yr.getPixelForValue(t.value)) + 0.5;
      ctx.beginPath(); ctx.moveTo(a.right, py); ctx.lineTo(a.right - 7, py); ctx.stroke();
    });
    ctx.restore();
  }
};

function makeScales(yTicks, yMax, xHeight, xPad) {
  return {
    x: {
      type: 'linear', position: 'bottom', min: xMinDay, max: xMaxDay,
      afterBuildTicks: s => { s.ticks = xTickDays.map(v => ({value: v})); },
      afterFit: s => { s.height = xHeight; },
      ticks: {autoSkip: false, maxRotation: 0, minRotation: 0, padding: xPad, color: '#000',
        font: {family: FONT, size: 18}, callback: (v, i) => xTickLabels[i]},
      grid: {display: false, drawTicks: false},
      border: {display: true, color: GRAY, width: 1}
    },
    yL: {
      type: 'linear', position: 'left', min: 0, max: yMax,
      afterBuildTicks: s => { s.ticks = yTicks.map(v => ({value: v})); },
      afterFit: s => { s.width = 77; },
      ticks: {color: BLUE_TXT, font: {family: FONT, size: 20}, padding: 8},
      grid: {display: false, drawTicks: false},
      border: {display: true, color: BLUE_AX, width: 1}
    },
    yR: {
      type: 'linear', position: 'right', min: 0, max: yMax,
      afterBuildTicks: s => { s.ticks = yTicks.map(v => ({value: v})); },
      afterFit: s => { s.width = 69; },
      ticks: {color: GREEN_TXT, font: {family: FONT, size: 20}, padding: 6},
      grid: {display: false, drawTicks: false},
      border: {display: true, color: GREEN_AX, width: 1}
    }
  };
}

const baseOpts = {
  responsive: false, animation: false, events: [],
  plugins: {legend: {display: false}, tooltip: {enabled: false}, title: {display: false}}
};

new Chart(document.getElementById('c1'), {
  type: 'line',
  data: {datasets: [
    {data: toXY(windSpeed), yAxisID: 'yR', borderColor: 'rgba(40,150,40,0.8)', borderWidth: 1.1,
     pointRadius: 0, cubicInterpolationMode: 'monotone', tension: 0.4},
    {data: toXY(curSpeed), yAxisID: 'yL', borderColor: 'rgba(45,45,235,0.82)', borderWidth: 1.1,
     pointRadius: 0, cubicInterpolationMode: 'monotone', tension: 0.4}
  ]},
  options: Object.assign({}, baseOpts, {
    layout: {padding: {top: 122, left: 0, right: 0, bottom: 0}},
    scales: makeScales(speedTicks, 16, 40, 9),
    plugins: Object.assign({}, baseOpts.plugins, {frame: {grid: false}})
  }),
  plugins: [framePlugin]
});

new Chart(document.getElementById('c2'), {
  type: 'line',
  data: {datasets: [
    {data: toXY(windDir), yAxisID: 'yR', showLine: false, pointRadius: 1.35, pointBorderWidth: 0,
     pointBackgroundColor: '#0c8a0c', borderColor: '#0c8a0c', clip: 4},
    {data: toXY(curDir), yAxisID: 'yL', borderColor: '#0a0ae6', borderWidth: 2.1, pointRadius: 0,
     tension: 0, spanGaps: false, borderCapStyle: 'round', borderJoinStyle: 'round', clip: 4,
     segment: {borderDash: ctx => {
       const dx = Math.abs(ctx.p1.x - ctx.p0.x), dy = Math.abs(ctx.p1.y - ctx.p0.y);
       const s = dy / Math.max(dx, 0.05);
       if (s < 9) return undefined;
       return [0.01, Math.max(2.6, Math.min(7, s * 0.2))];
     }}}
  ]},
  options: Object.assign({}, baseOpts, {
    layout: {padding: {top: 51, left: 0, right: 0, bottom: 0}},
    scales: makeScales(dirTicks, 360, 24, 7),
    plugins: Object.assign({}, baseOpts.plugins, {frame: {grid: true}})
  }),
  plugins: [framePlugin]
});
</script>
</body></html>
